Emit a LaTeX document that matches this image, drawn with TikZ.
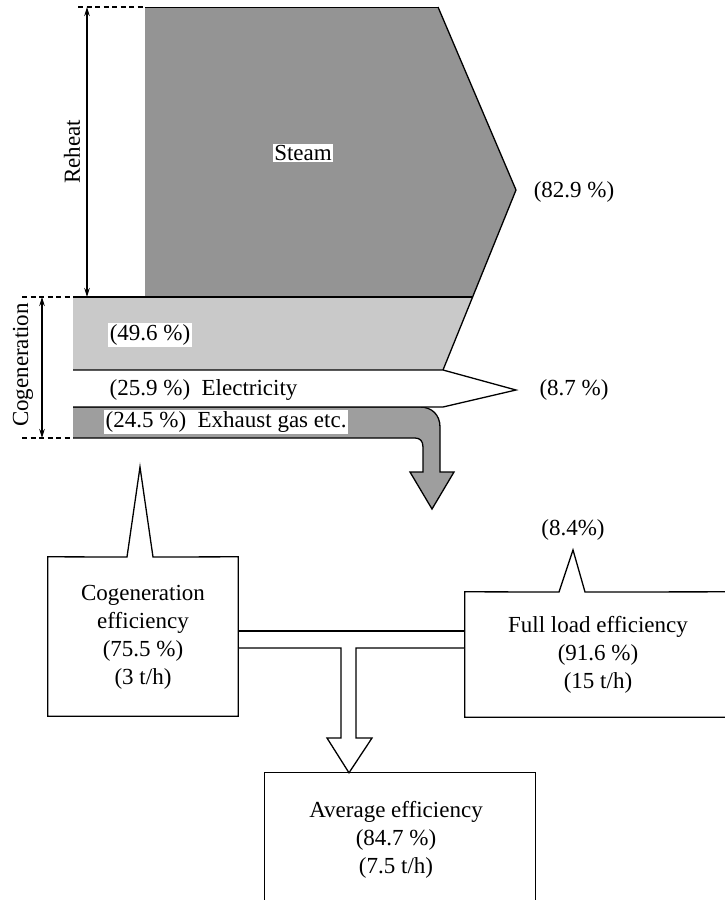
\documentclass[tikz,border=0pt]{standalone}
\usepackage{fontspec}
\setmainfont{Liberation Serif}
\usetikzlibrary{arrows.meta,calc}
\definecolor{steamgray}{gray}{0.58}
\definecolor{coggray}{gray}{0.79}
\definecolor{exhgray}{gray}{0.62}
\begin{document}
\begin{tikzpicture}[x=1pt,y=-1pt,
  txt/.style={font=\fontsize{23}{28}\selectfont, inner sep=1.5pt},
  lbl/.style={txt, fill=white},
  boxtxt/.style={txt, align=center},
  outline/.style={line width=1.3pt, line join=miter},
  dimline/.style={line width=1.4pt, {Stealth[length=9pt,width=5.5pt]}-{Stealth[length=9pt,width=5.5pt]}},
  guide/.style={line width=1.1pt, dash pattern=on 5pt off 3.5pt},
  boxshape/.style={draw=none, inner sep=0pt, rectangle}]
\useasboundingbox (0,0) rectangle (725,900);
\clip (0,0) rectangle (725,900);

% ---- Steam region ----
\fill[steamgray] (145,7) -- (438,7) -- (516,190) -- (473,297) -- (145,297) -- cycle;
\draw[line width=0.9pt] (145,7) -- (438,7);
% ---- Cogeneration band (49.6 %) ----
\fill[coggray] (73,297) -- (473,297) -- (443,370) -- (73,370) -- cycle;
\draw[outline] (73,297) -- (473,297);
\draw[outline] (438,7) -- (516,190) -- (443,370);
% ---- Exhaust band with down arrow ----
\coordinate (exhtip) at (432,509);
\filldraw[outline, fill=exhgray] (73,407) -- (420,407) .. controls (432,407) and (440,415) .. (440,427)
  -- (440,472) -- (454,472) -- (exhtip) -- (410,472) -- (423,472) -- (423,447)
  .. controls (423,441) and (420,438) .. (415,438) -- (73,438);
% ---- Electricity arrow ----
\filldraw[outline, fill=white] (73,370) -- (443,370) -- (516,390) -- (443,407) -- (73,407);

% ---- Labels in the flow ----
\node[lbl] (steam) at (303,153) {Steam};
\node[lbl] (p496) at (150,335) {(49.6 \%)};
\node[txt, anchor=west] (elec) at (108,390) {(25.9 \%)\ \ Electricity};
\node[lbl, anchor=west] (exh) at (104,422) {(24.5 \%)\ \ Exhaust gas etc.};
\node[txt] (p829) at (574,192) {(82.9 \%)};
\node[txt] (p87) at (574,390) {(8.7 \%)};

% ---- Dimension marks ----
\draw[guide] (78,7) -- (145,7);
\draw[guide] (22,297) -- (73,297);
\draw[guide] (22,438) -- (73,438);
\coordinate (rhTop) at (87,7);
\coordinate (rhBot) at (87,297);
\coordinate (cgTop) at (42,297);
\coordinate (cgBot) at (42,438);
\draw[dimline] (rhTop) -- (rhBot);
\draw[dimline] (cgTop) -- (cgBot);
\node[txt, rotate=90] (reheat) at (72,152) {Reheat};
\node[txt, rotate=90] (cogdim) at (23,365) {Cogeneration};

% ---- Efficiency boxes ----
\node[boxshape, minimum width=190pt, minimum height=159pt] (cog) at (143,636.5) {};
\node[boxshape, minimum width=275pt, minimum height=125pt] (full) at (602.5,654.5) {};
\node[boxshape, minimum width=270pt, minimum height=157pt] (avg) at (400,851.5) {};

\coordinate (cogtip) at (140,467);
\coordinate (fulltip) at (573,550);
\draw[outline] (cog.north west) -- (127,557) -- (cogtip) -- (153,557) -- (cog.north east)
  -- (cog.south east) -- (cog.south west) -- cycle;
\draw[outline] (full.north west) -- (559,592) -- (fulltip) -- (585,592) -- (full.north east)
  -- (full.south east) -- (full.south west) -- cycle;
\draw[outline] (avg.south west) -- (avg.north west) -- (avg.north east) -- (avg.south east);

\node[boxtxt] (cogtxt) at (143,637) {Cogeneration\\efficiency\\(75.5 \%)\\(3 t/h)};
\node[boxtxt] (fulltxt) at (598,655) {Full load efficiency\\(91.6 \%)\\(15 t/h)};
\node[boxtxt] (avgtxt) at (396,840) {Average efficiency\\(84.7 \%)\\(7.5 t/h)};
\node[txt] (p84) at (573,530) {(8.4\%)};

% ---- T connector into average box ----
\draw[outline] (cog.east |- 0,631) -- (full.west |- 0,631);
\draw[outline, fill=white] (cog.east |- 0,648) -- (341,648) -- (341,738) -- (327,738)
  -- (avg.north -| 349,0) -- (372,738) -- (356,738) -- (356,648) -- (full.west |- 0,648);
\end{tikzpicture}
\end{document}
